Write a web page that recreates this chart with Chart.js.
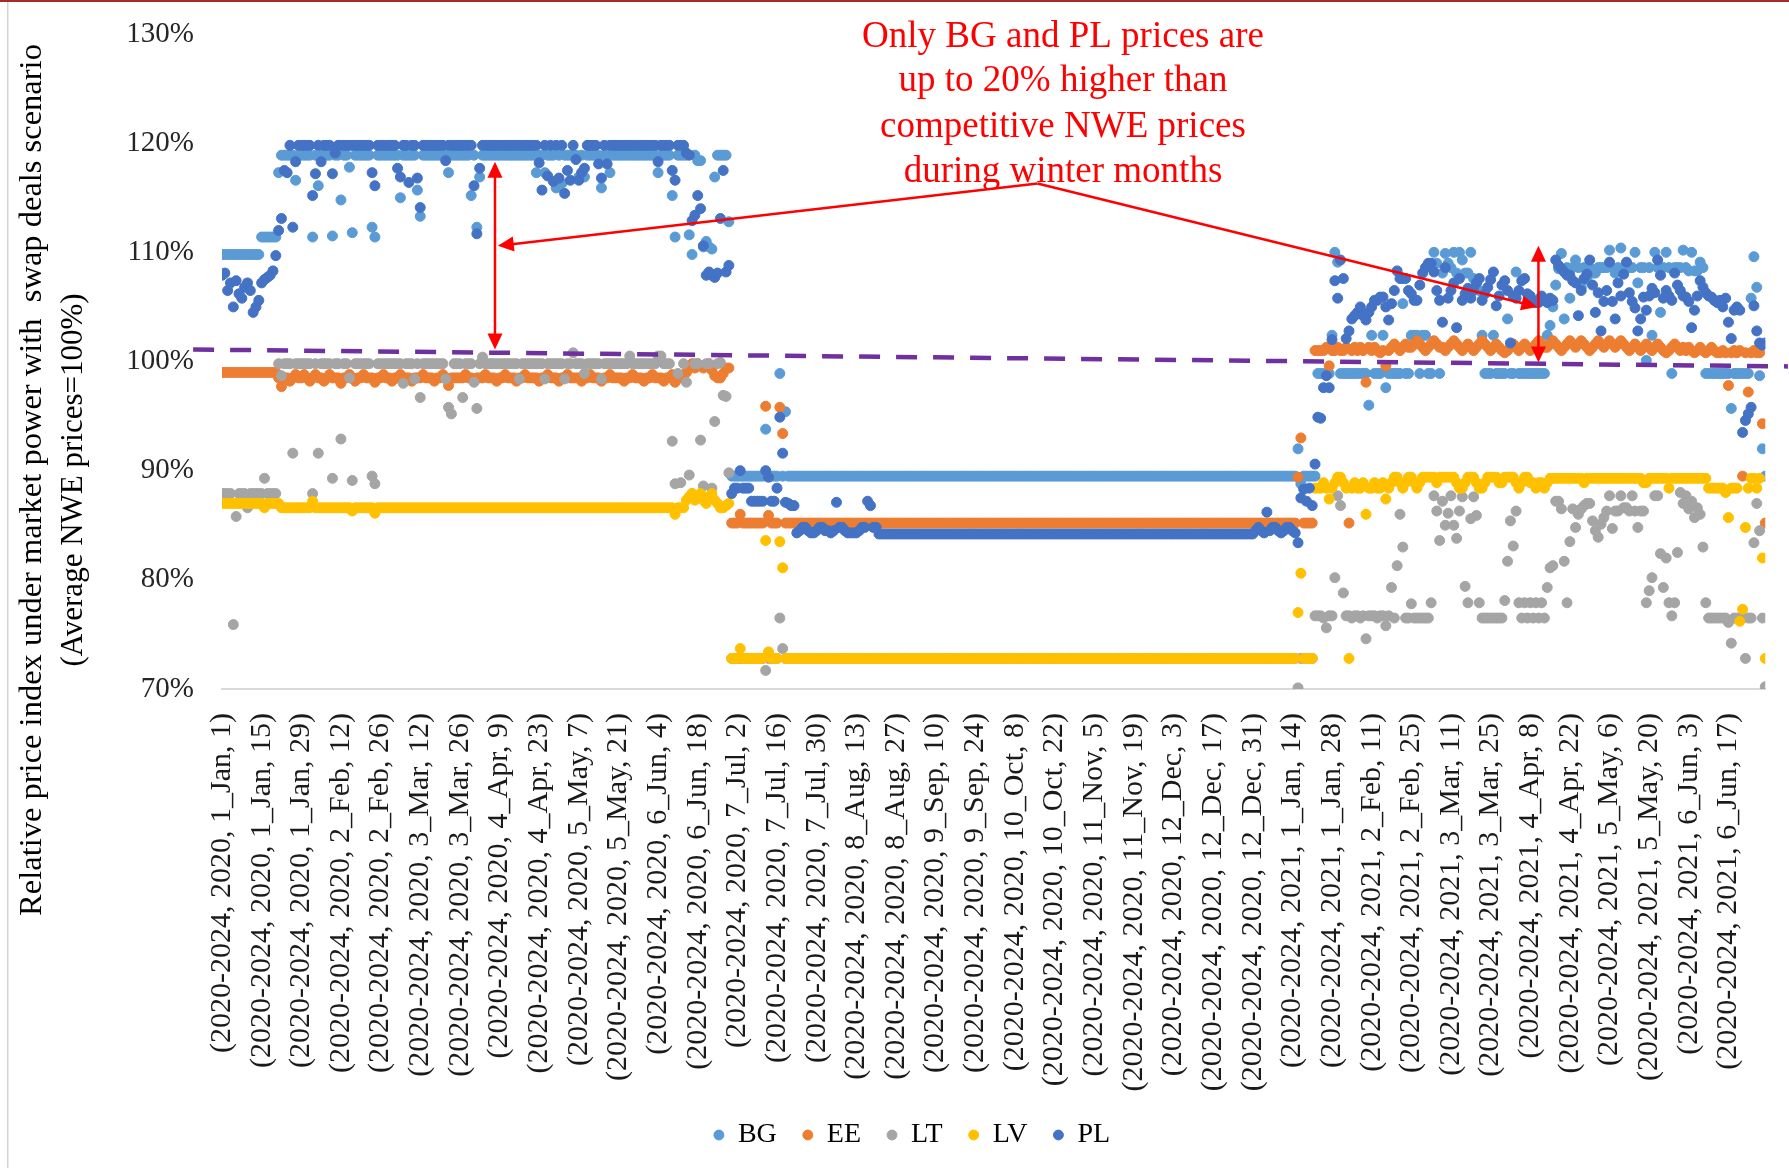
<!DOCTYPE html>
<html>
<head>
<meta charset="utf-8">
<script src="https://cdn.jsdelivr.net/npm/chart.js@4.4.1/dist/chart.umd.min.js"></script>
<style>
  html, body { margin: 0; padding: 0; background: #fff; }
  #wrap { width: 1789px; height: 1168px; }
</style>
</head>
<body>
<div id="wrap"><canvas id="chart" width="1789" height="1168"></canvas></div>
<script>
// one tick label every 14 days, data is daily (rows below = 14 days each)
const tickLabels = [
  '(2020-2024, 2020, 1_Jan, 1)', '(2020-2024, 2020, 1_Jan, 15)', '(2020-2024, 2020, 1_Jan, 29)',
  '(2020-2024, 2020, 2_Feb, 12)', '(2020-2024, 2020, 2_Feb, 26)', '(2020-2024, 2020, 3_Mar, 12)',
  '(2020-2024, 2020, 3_Mar, 26)', '(2020-2024, 2020, 4_Apr, 9)', '(2020-2024, 2020, 4_Apr, 23)',
  '(2020-2024, 2020, 5_May, 7)', '(2020-2024, 2020, 5_May, 21)', '(2020-2024, 2020, 6_Jun, 4)',
  '(2020-2024, 2020, 6_Jun, 18)', '(2020-2024, 2020, 7_Jul, 2)', '(2020-2024, 2020, 7_Jul, 16)',
  '(2020-2024, 2020, 7_Jul, 30)', '(2020-2024, 2020, 8_Aug, 13)', '(2020-2024, 2020, 8_Aug, 27)',
  '(2020-2024, 2020, 9_Sep, 10)', '(2020-2024, 2020, 9_Sep, 24)', '(2020-2024, 2020, 10_Oct, 8)',
  '(2020-2024, 2020, 10_Oct, 22)', '(2020-2024, 2020, 11_Nov, 5)', '(2020-2024, 2020, 11_Nov, 19)',
  '(2020-2024, 2020, 12_Dec, 3)', '(2020-2024, 2020, 12_Dec, 17)', '(2020-2024, 2020, 12_Dec, 31)',
  '(2020-2024, 2021, 1_Jan, 14)', '(2020-2024, 2021, 1_Jan, 28)', '(2020-2024, 2021, 2_Feb, 11)',
  '(2020-2024, 2021, 2_Feb, 25)', '(2020-2024, 2021, 3_Mar, 11)', '(2020-2024, 2021, 3_Mar, 25)',
  '(2020-2024, 2021, 4_Apr, 8)', '(2020-2024, 2021, 4_Apr, 22)', '(2020-2024, 2021, 5_May, 6)',
  '(2020-2024, 2021, 5_May, 20)', '(2020-2024, 2021, 6_Jun, 3)', '(2020-2024, 2021, 6_Jun, 17)'
];
const tickStep = 14;
const yTicks = [70, 80, 90, 100, 110, 120, 130];

const bgValues = [
  109.8,109.8,109.8,109.8,109.8,109.8,109.8,109.8,109.8,109.8,109.8,109.8,109.8,109.8,
  111.4,111.4,111.4,111.4,111.4,111.4,117.3,118.9,118.9,118.9,118.9,118.9,116.6,118.9,
  118.9,118.9,118.9,118.9,111.4,118.9,116.1,118.9,118.9,118.9,118.9,111.5,118.9,118.9,
  114.8,118.9,118.9,117.8,111.8,118.9,118.9,118.9,118.9,118.9,118.9,112.3,111.4,118.9,
  118.9,118.9,118.9,118.9,118.9,118.9,118.9,115,118.9,118.9,118.9,118.9,118.9,115.7,
  113.3,118.9,118.9,118.9,118.9,118.9,118.9,118.9,118.9,118.9,117.3,118.9,118.9,118.9,
  118.9,118.9,118.9,118.9,115.2,118.9,112.3,116.9,118.9,118.9,118.9,118.9,118.9,118.9,
  118.9,118.9,118.9,118.9,118.9,118.9,118.9,118.9,118.9,118.9,118.9,118.9,118.9,117.3,
  118.9,118.9,117.3,118.9,118.9,118.9,115.9,118.9,116.3,118.9,118.9,118.9,118.9,118.9,
  116.9,118.9,116.9,118.9,118.9,118.9,118.9,118.9,115.9,118.9,118.9,117.3,118.9,118.9,
  118.9,118.9,118.9,118.9,118.9,118.9,118.9,118.9,118.9,118.9,118.9,118.9,118.9,118.9,
  117.3,118.9,118.9,118.9,118.9,115.2,111.4,118.9,118.9,118.9,118.9,111.6,109.8,118.9,
  118.4,118.4,110.5,111,110.5,110.3,116.9,118.9,118.9,118.9,118.9,112.8,89.5,89.5,
  89.5,89.5,89.5,89.5,89.5,89.5,89.5,89.5,89.5,89.5,93.8,89.5,89.5,89.5,
  89.5,98.9,89.5,95.4,89.5,89.5,89.5,89.5,89.5,89.5,89.5,89.5,89.5,89.5,
  89.5,89.5,89.5,89.5,89.5,89.5,89.5,89.5,89.5,89.5,89.5,89.5,89.5,89.5,
  89.5,89.5,89.5,89.5,89.5,89.5,89.5,89.5,89.5,89.5,89.5,89.5,89.5,89.5,
  89.5,89.5,89.5,89.5,89.5,89.5,89.5,89.5,89.5,89.5,89.5,89.5,89.5,89.5,
  89.5,89.5,89.5,89.5,89.5,89.5,89.5,89.5,89.5,89.5,89.5,89.5,89.5,89.5,
  89.5,89.5,89.5,89.5,89.5,89.5,89.5,89.5,89.5,89.5,89.5,89.5,89.5,89.5,
  89.5,89.5,89.5,89.5,89.5,89.5,89.5,89.5,89.5,89.5,89.5,89.5,89.5,89.5,
  89.5,89.5,89.5,89.5,89.5,89.5,89.5,89.5,89.5,89.5,89.5,89.5,89.5,89.5,
  89.5,89.5,89.5,89.5,89.5,89.5,89.5,89.5,89.5,89.5,89.5,89.5,89.5,89.5,
  89.5,89.5,89.5,89.5,89.5,89.5,89.5,89.5,89.5,89.5,89.5,89.5,89.5,89.5,
  89.5,89.5,89.5,89.5,89.5,89.5,89.5,89.5,89.5,89.5,89.5,89.5,89.5,89.5,
  89.5,89.5,89.5,89.5,89.5,89.5,89.5,89.5,89.5,89.5,89.5,89.5,89.5,89.5,
  89.5,89.5,89.5,89.5,89.5,89.5,89.5,89.5,89.5,89.5,89.5,89.5,89.5,89.5,
  89.5,89.5,92,88.8,89.5,89.5,89.5,89.5,89.5,98.9,98.9,98.9,98.9,98.9,
  102.4,110,109.1,98.9,98.9,98.9,98.9,98.9,98.9,98.9,98.9,98.9,98.9,96,
  102.4,98.9,98.9,98.9,102.4,97.6,98.9,98.9,98.9,98.9,98.9,105.3,98.9,98.9,
  102.4,102.4,102.4,98.9,102.4,102.4,98.9,98.9,110,109,98.9,108.1,109.9,109,
  108.6,110,108.1,110,109.3,108.1,108.1,110,107.6,107.2,106.5,102.4,98.9,98.9,
  98.9,102.4,98.9,98.9,98.9,98.9,103.9,98.9,98.9,108.2,98.9,98.9,98.9,98.9,
  98.9,98.9,98.9,98.9,98.9,98.9,102.4,103.3,105,107,108.5,109.9,103.9,108.6,
  105.8,108.6,109.3,108.6,106.8,108.6,107.5,108.6,108.1,108.1,108.6,108.6,108.6,108.6,
  110.2,108.6,108.1,108.6,110.4,108.6,108.6,108.6,108.6,110,107.2,108.6,108.6,100.1,
  108.6,102.4,110,108.6,104.5,108.6,110,108.6,98.9,108.6,108.6,108.6,110.2,108.6,
  108.3,110,108.3,108.3,109.1,108.6,98.9,98.9,98.9,98.9,98.9,98.9,98.9,98.9,
  98.9,95.7,98.9,98.9,98.9,98.9,98.9,98.9,105.8,109.6,106.8,98.7,92,89.5
];

const eeValues = [
  99,99,99,99,99,99,99,99,99,99,99,99,99,99,
  99,99,99,99,99,99,98.5,97.7,98.5,98.5,98.2,98.5,98.8,98.5,
  98.5,98.8,98.5,98.2,98.5,98.8,98.5,98.5,98.2,98.5,98.8,98.5,98.5,98.5,
  98,98.5,98.5,98.8,98.5,98.2,98.5,98.5,98.8,98.5,98.5,98.5,98.1,98.5,
  98.5,98.8,98.5,98.5,98.2,98.5,98.5,98.8,98.5,98.5,98.5,98.2,98.5,98.5,
  98.5,98.8,98.5,98.5,98.5,98.2,98.5,98.5,98.8,98.5,97.8,98.5,98.5,98.5,
  98.5,98.5,98.8,98.5,98.5,98.2,98.5,98.5,98.5,98.8,98.5,98.5,98.5,98.2,
  98.5,98.5,98.8,98.5,98.5,98.5,98.2,98.5,98.5,98.8,98.5,98.5,98.5,98.5,
  98.2,98.5,98.5,98.8,98.5,98.5,98.5,98.2,98.5,98.5,98.8,98.5,98.5,98.5,
  98.5,98.2,98.5,98.5,98.8,98.5,98.5,98.5,98.2,98.5,98.5,98.8,98.5,98.5,
  98.5,98.5,98.2,98.5,98.5,98.8,98.5,98.5,98.5,98.2,98.5,98.5,98.8,98.5,
  98.5,98.5,98.2,98.5,98.5,98.8,98.1,98.5,98.5,98.5,99,99.4,99.8,99.4,
  99.8,99.6,99.4,99.6,99.8,99.2,98.7,98.5,98.5,98.9,99.4,99.4,85.2,85.2,
  85.2,86,85.2,85.2,85.2,85.2,85.2,85.2,85.2,85.2,95.9,85.9,85.2,85.2,
  85.2,95.8,93.4,85.2,85.2,85.2,85.2,85.2,85.2,85.2,85.2,85.2,85.2,85.2,
  85.2,85.2,85.2,85.2,85.2,85.2,85.2,85.2,85.2,85.2,85.2,85.2,85.2,85.2,
  85.2,85.2,85.2,85.2,85.2,85.2,85.2,85.2,85.2,85.2,85.2,85.2,85.2,85.2,
  85.2,85.2,85.2,85.2,85.2,85.2,85.2,85.2,85.2,85.2,85.2,85.2,85.2,85.2,
  85.2,85.2,85.2,85.2,85.2,85.2,85.2,85.2,85.2,85.2,85.2,85.2,85.2,85.2,
  85.2,85.2,85.2,85.2,85.2,85.2,85.2,85.2,85.2,85.2,85.2,85.2,85.2,85.2,
  85.2,85.2,85.2,85.2,85.2,85.2,85.2,85.2,85.2,85.2,85.2,85.2,85.2,85.2,
  85.2,85.2,85.2,85.2,85.2,85.2,85.2,85.2,85.2,85.2,85.2,85.2,85.2,85.2,
  85.2,85.2,85.2,85.2,85.2,85.2,85.2,85.2,85.2,85.2,85.2,85.2,85.2,85.2,
  85.2,85.2,85.2,85.2,85.2,85.2,85.2,85.2,85.2,85.2,85.2,85.2,85.2,85.2,
  85.2,85.2,85.2,85.2,85.2,85.2,85.2,85.2,85.2,85.2,85.2,85.2,85.2,85.2,
  85.2,85.2,85.2,85.2,85.2,85.2,85.2,85.2,85.2,85.2,85.2,85.2,85.2,85.2,
  85.2,85.2,85.2,85.2,85.2,85.2,85.2,85.2,85.2,85.2,85.2,85.2,85.2,85.2,
  85.2,85.2,89.4,93,85.2,85.2,85.2,85.2,101,101,101,101,101.3,99.6,
  101,101,101.3,101,101,101.3,85.2,101,101.3,101,101.3,101,98.1,101.3,
  101,101.3,101,100.8,101,99.6,101,101.3,101.6,101.3,101,101.3,101.6,101.3,
  101.3,101.6,101.9,101.6,101.3,101,101.3,101.6,101.9,101.6,101.3,101.3,101,101.3,
  101.6,101.9,101.6,101.3,101,101.3,101.6,101.3,101,101.3,101.6,101.9,101.6,101.3,
  101,101.3,101.6,101.3,101,100.8,101,101.3,101.6,101.3,101,101.3,101.6,101.3,
  101,101.3,101.6,101.9,101.6,101.3,101.3,101.6,101.9,101.6,101.3,101,101.3,101.6,
  101.9,101.6,101.3,101.6,101.9,101.6,101.3,101,101.3,101.6,101.9,101.6,101.3,101.6,
  101.9,101.6,101.3,101.6,101.9,101.6,101.3,101,101.3,101.6,101.3,101,101.3,101.6,
  101.3,101,101.3,101.6,101.3,101,100.8,101,101.3,101.6,101.3,101,101.3,101,
  101.3,101,100.8,101,101.3,101,100.8,101,101.3,101,100.8,100.8,101,100.8,
  97.8,100.8,101,100.8,101,89.5,100.8,97.2,100.8,101,100.8,100.8,94.3,85.2
];

const ltValues = [
  87.9,87.9,87.9,87.9,75.9,85.8,87.9,87.9,87.9,86.6,87.9,87.9,87.9,87.9,
  87.9,89.3,87.9,87.9,87.9,87.9,99.8,98.7,99.8,99.8,99.8,91.6,99.8,99.8,
  99.8,99.8,99.8,99.8,87.9,99.8,91.6,99.8,99.8,99.8,99.8,89.3,99.8,99.8,
  92.9,99.8,99.8,98.5,89.1,99.8,99.8,99.8,99.8,99.8,99.8,89.5,88.8,99.8,
  99.8,99.8,99.8,99.8,99.8,99.8,99.8,99.8,98,99.8,99.8,99.8,98.4,99.8,
  96.7,99.8,99.8,99.8,99.8,99.8,99.8,99.8,99.8,98.4,95.8,95.2,99.8,99.8,
  99.8,96.7,99.8,99.8,99.8,98.1,95.7,99.8,100.4,99.8,99.8,99.8,99.8,99.8,
  99.8,99.8,99.8,99.8,99.8,99.8,99.8,98.4,99.8,99.8,99.8,99.8,99.8,99.8,
  99.8,99.8,98.4,99.8,99.8,99.8,99.8,99.8,99.8,98.4,99.8,99.8,100.8,99.8,
  99.8,99.8,98.9,99.8,99.8,99.8,99.8,99.8,98.4,99.8,99.8,99.8,99.8,99.8,
  99.8,99.8,99.8,99.8,100.5,99.8,99.8,99.8,99.8,99.8,99.8,99.8,99.8,99.8,
  100.5,100.5,99.8,99.8,99.8,92.7,88.8,98.9,88.9,99.8,98.1,89.6,87.9,99.8,
  99.8,92.8,88.6,99.8,99.8,88.4,94.5,99.8,99.9,96.9,96.8,89.8,72.8,72.8,
  72.8,72.8,72.8,72.8,72.8,72.8,72.8,72.8,72.8,72.8,71.7,72.8,72.8,72.8,
  72.8,76.5,73.7,72.8,72.8,72.8,72.8,72.8,72.8,72.8,72.8,72.8,72.8,72.8,
  72.8,72.8,72.8,72.8,72.8,72.8,72.8,72.8,72.8,72.8,72.8,72.8,72.8,72.8,
  72.8,72.8,72.8,72.8,72.8,72.8,72.8,72.8,72.8,72.8,72.8,72.8,72.8,72.8,
  72.8,72.8,72.8,72.8,72.8,72.8,72.8,72.8,72.8,72.8,72.8,72.8,72.8,72.8,
  72.8,72.8,72.8,72.8,72.8,72.8,72.8,72.8,72.8,72.8,72.8,72.8,72.8,72.8,
  72.8,72.8,72.8,72.8,72.8,72.8,72.8,72.8,72.8,72.8,72.8,72.8,72.8,72.8,
  72.8,72.8,72.8,72.8,72.8,72.8,72.8,72.8,72.8,72.8,72.8,72.8,72.8,72.8,
  72.8,72.8,72.8,72.8,72.8,72.8,72.8,72.8,72.8,72.8,72.8,72.8,72.8,72.8,
  72.8,72.8,72.8,72.8,72.8,72.8,72.8,72.8,72.8,72.8,72.8,72.8,72.8,72.8,
  72.8,72.8,72.8,72.8,72.8,72.8,72.8,72.8,72.8,72.8,72.8,72.8,72.8,72.8,
  72.8,72.8,72.8,72.8,72.8,72.8,72.8,72.8,72.8,72.8,72.8,72.8,72.8,72.8,
  72.8,72.8,72.8,72.8,72.8,72.8,72.8,72.8,72.8,72.8,72.8,72.8,72.8,72.8,
  72.8,72.8,72.8,72.8,72.8,72.8,72.8,72.8,72.8,72.8,72.8,72.8,72.8,72.8,
  72.8,72.8,70.1,72.8,72.8,72.8,72.8,72.8,76.7,76.7,76.7,76.5,75.6,76.7,
  76.7,80.2,87.7,86.8,78.8,76.7,76.7,76.5,76.7,76.7,76.5,76.7,74.6,76.7,
  76.7,76.7,76.5,76.7,76.7,75.8,76.7,79.3,76.5,81.3,86,83,76.5,76.5,
  77.8,76.5,76.5,76.5,76.5,76.5,76.5,77.9,87.7,86.3,83.6,87.2,85,86.1,
  87.7,85,83.8,86.3,87.6,79.4,77.9,85.6,87.6,85.9,77.9,76.5,76.5,76.5,
  76.5,76.5,76.5,76.5,76.5,78.1,81.7,85.4,83.1,86.3,77.9,76.5,77.9,76.5,
  77.9,76.5,77.9,76.5,77.9,76.5,79.3,81.1,81.3,87.2,87.2,86.5,81.7,77.9,
  83.5,86.5,84.8,86,86.5,86.8,87,87,85.4,84.5,83.9,85.1,85.7,86.3,
  87.7,84.7,86.3,86.3,87.7,86.6,86.6,86.3,87.7,86.3,84.8,86.3,86.3,77.9,
  79,80.2,87.7,87.7,82.4,79.3,82,77.9,76.7,77.9,82.5,88,87,87.7,
  86.5,87.2,85.7,86.6,86,83,77.9,76.5,76.5,76.5,76.5,76.5,76.5,76.5,
  76.1,74.2,76.5,76.5,76.5,76.5,72.8,76.5,76.5,83.4,87,84.5,76.5,70.2
];

const lvValues = [
  87,87,87,87,87,87,87,87,87,87,87,87,87,87,
  87,86.6,87,87,87,87,87,86.6,86.6,86.6,86.6,86.6,86.6,86.6,
  86.6,86.6,86.6,86.6,87.2,86.6,86.6,86.6,86.6,86.6,86.6,86.6,86.6,86.6,
  86.6,86.6,86.6,86.6,86.3,86.6,86.6,86.6,86.6,86.6,86.6,86.6,86.1,86.6,
  86.6,86.6,86.6,86.6,86.6,86.6,86.6,86.6,86.6,86.6,86.6,86.6,86.6,86.6,
  86.6,86.6,86.6,86.6,86.6,86.6,86.6,86.6,86.6,86.6,86.6,86.6,86.6,86.6,
  86.6,86.6,86.6,86.6,86.6,86.6,86.6,86.6,86.6,86.6,86.6,86.6,86.6,86.6,
  86.6,86.6,86.6,86.6,86.6,86.6,86.6,86.6,86.6,86.6,86.6,86.6,86.6,86.6,
  86.6,86.6,86.6,86.6,86.6,86.6,86.6,86.6,86.6,86.6,86.6,86.6,86.6,86.6,
  86.6,86.6,86.6,86.6,86.6,86.6,86.6,86.6,86.6,86.6,86.6,86.6,86.6,86.6,
  86.6,86.6,86.6,86.6,86.6,86.6,86.6,86.6,86.6,86.6,86.6,86.6,86.6,86.6,
  86.6,86.6,86.6,86.6,86.6,86.6,86,86.6,86.6,86.6,87.3,87.6,87.9,87.3,
  87.6,87.9,87.3,87,87.6,87.9,87.3,87,86.6,86.6,86.8,87,72.8,72.8,
  72.8,73.7,72.8,72.8,72.8,72.8,72.8,72.8,72.8,72.8,83.6,73.4,72.8,72.8,
  72.8,83.5,81.1,72.8,72.8,72.8,72.8,72.8,72.8,72.8,72.8,72.8,72.8,72.8,
  72.8,72.8,72.8,72.8,72.8,72.8,72.8,72.8,72.8,72.8,72.8,72.8,72.8,72.8,
  72.8,72.8,72.8,72.8,72.8,72.8,72.8,72.8,72.8,72.8,72.8,72.8,72.8,72.8,
  72.8,72.8,72.8,72.8,72.8,72.8,72.8,72.8,72.8,72.8,72.8,72.8,72.8,72.8,
  72.8,72.8,72.8,72.8,72.8,72.8,72.8,72.8,72.8,72.8,72.8,72.8,72.8,72.8,
  72.8,72.8,72.8,72.8,72.8,72.8,72.8,72.8,72.8,72.8,72.8,72.8,72.8,72.8,
  72.8,72.8,72.8,72.8,72.8,72.8,72.8,72.8,72.8,72.8,72.8,72.8,72.8,72.8,
  72.8,72.8,72.8,72.8,72.8,72.8,72.8,72.8,72.8,72.8,72.8,72.8,72.8,72.8,
  72.8,72.8,72.8,72.8,72.8,72.8,72.8,72.8,72.8,72.8,72.8,72.8,72.8,72.8,
  72.8,72.8,72.8,72.8,72.8,72.8,72.8,72.8,72.8,72.8,72.8,72.8,72.8,72.8,
  72.8,72.8,72.8,72.8,72.8,72.8,72.8,72.8,72.8,72.8,72.8,72.8,72.8,72.8,
  72.8,72.8,72.8,72.8,72.8,72.8,72.8,72.8,72.8,72.8,72.8,72.8,72.8,72.8,
  72.8,72.8,72.8,72.8,72.8,72.8,72.8,72.8,72.8,72.8,72.8,72.8,72.8,72.8,
  72.8,72.8,77,80.6,72.8,72.8,72.8,72.8,88.4,88.4,88.4,88.9,88.4,87.4,
  88.4,88.9,89.4,89.4,88.9,88.4,72.8,88.4,88.9,88.4,88.4,88.9,86,88.4,
  88.4,88.9,88.4,88.4,88.9,87.4,88.4,88.9,89.4,89.4,88.9,88.4,88.9,89.4,
  89.4,88.9,88.4,88.9,89.4,89.4,89.4,89.4,89.4,88.9,89.4,89.4,89.4,89.4,
  89.4,89.4,88.9,88.4,88.4,88.9,89.4,89.4,89.4,88.9,88.4,88.4,88.9,89.4,
  89.4,89.4,89.4,88.9,88.9,89.4,89.4,89.4,89.4,88.9,88.4,88.9,89.4,89.4,
  88.9,88.9,88.4,88.9,88.9,88.4,88.9,89.3,89.3,89.3,89.3,89.3,89.3,89.3,
  89.3,89.3,89.3,89.3,89.3,88.9,89.3,89.3,89.3,89.3,89.3,89.3,89.3,89.3,
  89.3,89.3,89.3,89.3,89.3,89.3,89.3,89.3,89.3,89.3,89.3,89.3,88.9,88.9,
  89.3,89.3,89.3,89.3,89.3,89.3,89.3,88.4,89.3,89.3,89.3,89.3,89.3,89.3,
  89.3,89.3,89.3,89.3,89.3,89.3,89.3,88.4,88.4,88.4,88.4,88.4,88.4,88,
  85.7,88.4,88.4,88.4,76.2,77.3,84.8,88.4,89.3,89.3,88.4,89.3,82,72.8
];

const plValues = [
  107.9,108.1,106.5,107.2,105,107.4,106.2,105.8,106.8,107.2,106.5,104.5,105,105.6,
  107.2,107.5,107.7,107.9,108.3,109.7,112,113.1,117.5,117.3,119.8,112.3,118.3,119.8,
  119.8,119.8,119.8,119.8,115.2,117.2,119.8,118.3,119.8,119.8,119.8,117.2,119.1,119.8,
  119.8,119.8,119.8,119.8,119.8,119.8,119.8,119.8,119.8,119.8,119.8,117.3,116.1,119.8,
  119.8,119.8,119.8,119.8,119.8,119.8,117.7,116.9,119.8,119.8,116.4,119.8,119.8,116.8,
  114.1,119.8,119.8,119.8,119.8,119.8,119.8,119.8,119.8,118.4,119.8,119.8,119.8,119.8,
  119.8,119.8,119.8,119.8,119.8,116.1,111.7,117.7,119.8,119.8,119.8,119.8,119.8,119.8,
  119.8,119.8,119.8,119.8,119.8,119.8,119.8,119.8,119.8,119.8,119.8,119.8,119.8,119.8,
  118.2,115.7,119.8,117,119.8,116.5,119.8,116.8,119.8,115.4,117.5,116.6,119.8,118.5,
  116.6,117.3,117.7,119.8,119.8,119.8,119.8,118.1,116.8,119.8,118.1,119.8,119.8,119.8,
  119.8,119.8,119.8,119.8,119.8,119.8,119.8,119.8,119.8,119.8,119.8,119.8,119.8,119.8,
  118.3,119.8,119.8,119.8,119.8,117.5,116.6,119.8,119.8,119.8,119.1,118.9,112.9,113.4,
  115.2,114,110.6,107.9,108.2,107.9,107.7,108.1,113.1,117.5,108.2,108.8,87.9,88.4,
  88.4,90,88.4,88.4,88.4,87.2,87.2,87.2,87.2,87.2,90,89.4,87.2,87.2,
  88.4,94.9,91.6,87.1,87,86.8,86.8,84.3,84.5,84.8,84.8,84.5,84.3,84.3,
  84.5,84.8,84.8,84.5,84.5,84.3,84.5,87.1,84.8,84.8,84.5,84.3,84.3,84.3,
  84.3,84.5,84.8,84.8,87.2,86.8,84.8,84.8,84.2,84.2,84.2,84.2,84.2,84.2,
  84.2,84.2,84.2,84.2,84.2,84.2,84.2,84.2,84.2,84.2,84.2,84.2,84.2,84.2,
  84.2,84.2,84.2,84.2,84.2,84.2,84.2,84.2,84.2,84.2,84.2,84.2,84.2,84.2,
  84.2,84.2,84.2,84.2,84.2,84.2,84.2,84.2,84.2,84.2,84.2,84.2,84.2,84.2,
  84.2,84.2,84.2,84.2,84.2,84.2,84.2,84.2,84.2,84.2,84.2,84.2,84.2,84.2,
  84.2,84.2,84.2,84.2,84.2,84.2,84.2,84.2,84.2,84.2,84.2,84.2,84.2,84.2,
  84.2,84.2,84.2,84.2,84.2,84.2,84.2,84.2,84.2,84.2,84.2,84.2,84.2,84.2,
  84.2,84.2,84.2,84.2,84.2,84.2,84.2,84.2,84.2,84.2,84.2,84.2,84.2,84.2,
  84.2,84.2,84.2,84.2,84.2,84.2,84.2,84.2,84.2,84.2,84.2,84.2,84.2,84.2,
  84.2,84.2,84.2,84.2,84.2,84.2,84.2,84.2,84.2,84.2,84.2,84.2,84.2,84.2,
  84.2,84.5,84.8,84.5,84.3,86.2,84.5,84.8,84.8,84.5,84.3,84.5,84.8,84.8,
  84.5,84.3,83.4,87.5,88.3,87.2,88.4,86.8,90.6,94.9,94.8,97.6,98.7,97.6,
  102,107.4,105.8,109.3,107.6,102.1,102.8,103.9,104.2,104.5,105,104.2,103.8,104.5,
  105,105.6,105.6,105.9,105.9,105,103.8,105.3,106.5,108.3,107.6,107.6,107.6,106.5,
  106.2,105.6,105.6,107,108.1,108.6,109,109,108.2,106.5,105.6,103.6,108.6,105.8,
  106.5,107.2,103.1,107.6,105.6,106.2,106.7,105.8,106.5,107.2,107.6,105.6,106.2,106.8,
  107.5,108.2,105.1,106,107,107.4,106.5,101.7,106,105.8,106.5,107.4,107.6,106.2,
  106,105.6,105.4,105.4,106,105.6,105.4,105.8,105.6,109.3,108.8,108.5,108.2,107.9,
  107.9,107.4,107.2,104.2,106.5,107.6,108,109.3,107,104.5,106.3,102.8,105.5,106.5,
  109.1,105.5,103.9,107.2,106,108,109.1,106.3,105.5,104.9,102.8,103.9,105.9,104.7,
  106,106.7,106.3,109.3,107.9,105.8,106.5,106,105.6,108.1,107,106.5,106,105.9,
  105.5,103.1,104.7,106,107.4,106.8,106.3,106,105.9,105.6,105.4,105.6,105,105.8,
  103.6,102.1,104.7,105,104.7,93.5,94.6,95.2,95.8,105.1,102.8,101.7,101.5,101.7
];

const seriesNames = ['BG', 'EE', 'LT', 'LV', 'PL'];
const seriesValues = [bgValues, eeValues, ltValues, lvValues, plValues];
const seriesColors = ['#5B9BD5', '#ED7D31', '#A5A5A5', '#FFC000', '#4472C4'];

const annotationLines = [
  'Only BG and PL prices are',
  'up to 20% higher than',
  'competitive NWE prices',
  'during winter months'
];
const yTitle = ['Relative price index under market power with  swap deals scenario', '(Average NWE prices=100%)'];

const serif = '"Liberation Serif", "Times New Roman", serif';

function drawArrowHead(ctx, fromX, fromY, toX, toY) {
  const ang = Math.atan2(toY - fromY, toX - fromX);
  const len = 16, half = 7.5;
  ctx.beginPath();
  ctx.moveTo(toX, toY);
  ctx.lineTo(toX - len * Math.cos(ang) + half * Math.sin(ang), toY - len * Math.sin(ang) - half * Math.cos(ang));
  ctx.lineTo(toX - len * Math.cos(ang) - half * Math.sin(ang), toY - len * Math.sin(ang) + half * Math.cos(ang));
  ctx.closePath();
  ctx.fill();
}

function drawArrow(ctx, x1, y1, x2, y2, both) {
  const ang = Math.atan2(y2 - y1, x2 - x1);
  const sx = both ? x1 + 12 * Math.cos(ang) : x1, sy = both ? y1 + 12 * Math.sin(ang) : y1;
  ctx.beginPath();
  ctx.moveTo(sx, sy);
  ctx.lineTo(x2 - 12 * Math.cos(ang), y2 - 12 * Math.sin(ang));
  ctx.stroke();
  drawArrowHead(ctx, x1, y1, x2, y2);
  if (both) drawArrowHead(ctx, x2, y2, x1, y1);
}

const overlay = {
  id: 'overlay',
  afterDatasetsDraw(chart) {
    const { ctx, scales: { x, y } } = chart;
    const px = v => x.getPixelForValue(v), py = v => y.getPixelForValue(v);
    ctx.save();
    // NWE reference (dashed)
    ctx.strokeStyle = '#7030A0';
    ctx.lineWidth = 4.5;
    ctx.setLineDash([21, 16]);
    ctx.beginPath();
    ctx.moveTo(px(-10.2), py(101.1));
    ctx.lineTo(px(553), py(99.55));
    ctx.stroke();
    ctx.setLineDash([]);

    // red callout arrows
    ctx.strokeStyle = '#FF0000';
    ctx.fillStyle = '#FF0000';
    ctx.lineWidth = 2.5;
    const hubX = px(288), hubY = py(116.3);
    drawArrow(ctx, hubX, hubY, px(97.4), py(110.6), false);
    drawArrow(ctx, hubX, hubY, px(464.5), py(105.0), false);
    drawArrow(ctx, px(96.4), py(118.3), px(96.4), py(101.1), true);
    drawArrow(ctx, px(464.9), py(110.6), px(464.9), py(99.9), true);
    ctx.restore();
  },
  afterDraw(chart) {
    const { ctx } = chart;
    ctx.save();
    // page frame bits
    ctx.fillStyle = '#A52A2A';
    ctx.fillRect(0, 0, 1789, 2);
    ctx.fillStyle = '#D4D4D4';
    ctx.fillRect(7, 2, 1.5, 1166);

    // callout text
    ctx.fillStyle = '#FF0000';
    ctx.font = '37px ' + serif;
    ctx.textAlign = 'center';
    ctx.textBaseline = 'alphabetic';
    const baselines = [47, 91, 137, 182];
    annotationLines.forEach((t, i) => ctx.fillText(t, 1063, baselines[i]));

    // y axis title
    ctx.fillStyle = '#000';
    ctx.textBaseline = 'middle';
    [[32, 32.5, yTitle[0]], [74, 31, yTitle[1]]].forEach(([cx, size, t]) => {
      ctx.save();
      ctx.font = size + 'px ' + serif;
      ctx.translate(cx, 480);
      ctx.rotate(-Math.PI / 2);
      ctx.fillText(t, 0, 0);
      ctx.restore();
    });
    ctx.restore();
  }
};

const datasets = seriesNames.map((name, k) => ({
  label: name,
  data: seriesValues[k].map((v, i) => ({ x: i, y: v })),
  backgroundColor: seriesColors[k],
  borderColor: seriesColors[k],
  borderWidth: 1,
  pointRadius: 5,
  pointBorderWidth: 1,
  pointStyle: 'circle',
  showLine: false,
  order: seriesNames.length - k
}));

new Chart(document.getElementById('chart'), {
  type: 'scatter',
  data: { datasets },
  options: {
    responsive: false,
    devicePixelRatio: 1,
    animation: false,
    events: [],
    layout: { padding: { top: 34, right: 23, bottom: 9, left: 58 } },
    scales: {
      x: {
        type: 'linear',
        min: 0,
        max: bgValues.length - 1,
        afterBuildTicks: s => { s.ticks = tickLabels.map((_, k) => ({ value: k * tickStep })); },
        afterFit: s => { s.height = 406; },
        grid: { display: false, drawTicks: false },
        border: { display: true, color: '#D9D9D9', width: 2 },
        ticks: {
          autoSkip: false,
          minRotation: 90,
          maxRotation: 90,
          padding: 24,
          color: '#1a1a1a',
          font: { family: serif, size: 30 },
          callback: v => tickLabels[Math.round(v / tickStep)]
        }
      },
      y: {
        min: yTicks[0],
        max: yTicks[yTicks.length - 1],
        afterFit: s => { s.width = 164; },
        afterBuildTicks: s => { s.ticks = yTicks.map(v => ({ value: v })); },
        // invisible tick marks give the label gap without adding top padding
        grid: { display: false, drawTicks: true, tickLength: 22 },
        border: { display: false },
        ticks: {
          padding: 6,
          color: '#262626',
          font: { family: serif, size: 29 },
          callback: v => v + '%'
        }
      }
    },
    plugins: {
      tooltip: { enabled: false },
      legend: {
        position: 'bottom',
        labels: {
          usePointStyle: true,
          boxWidth: 10,
          boxHeight: 7,
          padding: 26,
          color: '#000',
          font: { family: serif, size: 28 },
          sort: (a, b) => a.datasetIndex - b.datasetIndex
        }
      }
    }
  },
  plugins: [overlay]
});
</script>
</body>
</html>
